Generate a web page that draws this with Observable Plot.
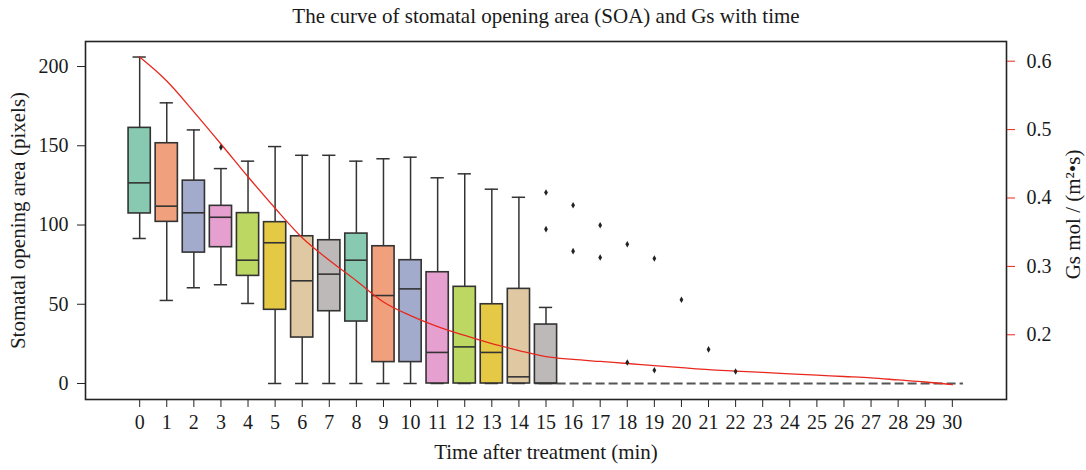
<!DOCTYPE html>
<html><head><meta charset="utf-8">
<script src="https://cdn.jsdelivr.net/npm/d3@7"></script>
<script src="https://cdn.jsdelivr.net/npm/@observablehq/plot@0.6"></script>
<style>body{margin:0;background:#fff;} svg{display:block}</style>
</head><body><div id="chart"></div>
<script>
// ---- data ----
const boxMinutes = [0, 1, 2, 3, 4, 5, 6, 7, 8, 9, 10, 11, 12, 13, 14, 15];
const whiskerLow = [91.5, 52.4, 60.4, 62.3, 50.5, 0, 0, 0, 0, 0, 0, 0, 0, 0, 0, 0];
const quartile1  = [107.3, 102, 82.6, 86, 67.9, 46.5, 29, 45.6, 39.1, 13.5, 13.5, 0, 0, 0, 0, 0];
const medians    = [126.6, 111.9, 107.7, 104.9, 77.8, 88.8, 64.8, 69, 77.8, 55.5, 59.7, 19.6, 23.1, 19.6, 4.2, 0];
const quartile3  = [161.3, 151.6, 128, 112.1, 107.5, 101.8, 92.9, 90.4, 94.6, 86.6, 77.8, 70.2, 61, 50, 59.7, 37.2];
const whiskerHigh= [206, 177.1, 160, 135.6, 140.3, 149.5, 144, 144, 140.3, 141.8, 142.8, 129.8, 132.3, 122.6, 117.5, 48];

const outlierMinutes = [3, 15, 15, 16, 16, 17, 17, 18, 18, 19, 19, 20, 21, 22];
const outlierValues  = [149, 120.5, 97.4, 112.5, 83.5, 99.9, 79.5, 87.9, 13.2, 78.9, 8.4, 52.8, 21.5, 7.6];

const zeroMinutes = [16, 17, 18, 19, 20, 21, 22, 23, 24, 25, 26, 27, 28, 29, 30];

const gsMinutes = [0,1,2,3,4,5,6,7,8,9,10,11,12,13,14,15,16,17,18,19,20,21,22,23,24,25,26,27,28,29,30];
const gsValues  = [0.606,0.571,0.526,0.479,0.431,0.385,0.342,0.309,0.279,0.248,0.228,0.212,0.199,0.187,0.177,0.168,
                   0.164,0.161,0.158,0.155,0.152,0.149,0.147,0.145,0.143,0.141,0.139,0.137,0.134,0.131,0.127];

const xTicks   = [0,1,2,3,4,5,6,7,8,9,10,11,12,13,14,15,16,17,18,19,20,21,22,23,24,25,26,27,28,29,30];
const soaTicks = [0, 50, 100, 150, 200];
const gsTicks  = [0.2, 0.3, 0.4, 0.5, 0.6];

const boxColors = ["#87c9b1", "#f0a07c", "#a3abcd", "#e6a0d0", "#bdd862", "#e5c843", "#e0c9a2", "#bdb9b8"];

const titleText = "The curve of stomatal opening area (SOA) and Gs with time";
const xTitle = "Time after treatment (min)";
const yTitle = "Stomatal opening area (pixels)";
const y2Title = "Gs mol / (m\u00B2\u2022s)";

// ---- scales ----
const soaDomain = [-10.1, 215.8];
const gsDomain = [0.1054, 0.6288];
const toSoa = d3.scaleLinear().domain(gsDomain).range(soaDomain);

const boxHalf = 0.41, capHalf = 0.245;
const boxes = boxMinutes.map((t, i) => ({
  t, lo: whiskerLow[i], q1: quartile1[i], med: medians[i], q3: quartile3[i], hi: whiskerHigh[i],
  color: boxColors[i % boxColors.length]
}));
const outliers = outlierMinutes.map((t, i) => ({t, v: outlierValues[i]}));
const gs = gsMinutes.map((t, i) => ({t, g: gsValues[i]}));
const zeroSpan = [{from: d3.min(zeroMinutes) - 1, to: d3.max(zeroMinutes), y: 0}];

const edge = "#333";
const red = "#e8281e";

const chart = Plot.plot({
  width: 1086, height: 470,
  marginLeft: 85, marginRight: 80, marginTop: 41, marginBottom: 71,
  style: {fontFamily: "'Liberation Serif', 'Times New Roman', serif", fontSize: "20px", color: "#1a1a1a", background: "#fff"},
  x: {domain: [-2, 32]},
  y: {domain: soaDomain},
  color: {type: "identity"},
  marks: [
    Plot.ruleY(zeroSpan, {y: "y", x1: d => d.from + boxHalf, x2: d => d.to + boxHalf, stroke: "#555", strokeWidth: 1.8, strokeDasharray: "9,4"}),
    Plot.ruleX(boxes, {x: "t", y1: "q3", y2: "hi", stroke: edge, strokeWidth: 1.5}),
    Plot.ruleX(boxes, {x: "t", y1: "lo", y2: "q1", stroke: edge, strokeWidth: 1.5}),
    Plot.ruleY(boxes, {y: "hi", x1: d => d.t - capHalf, x2: d => d.t + capHalf, stroke: edge, strokeWidth: 1.5}),
    Plot.ruleY(boxes, {y: "lo", x1: d => d.t - capHalf, x2: d => d.t + capHalf, stroke: edge, strokeWidth: 1.5}),
    Plot.rect(boxes, {x1: d => d.t - boxHalf, x2: d => d.t + boxHalf, y1: "q1", y2: "q3", fill: "color", stroke: edge, strokeWidth: 1.6}),
    Plot.ruleY(boxes, {y: "med", x1: d => d.t - boxHalf, x2: d => d.t + boxHalf, stroke: edge, strokeWidth: 1.6}),
    Plot.line(gs, {x: "t", y: d => toSoa(d.g), stroke: red, strokeWidth: 1.3, curve: "monotone-x"}),
    Plot.dot(outliers, {x: "t", y: "v", symbol: "diamond", r: 2, fill: "#222", stroke: "none"}),
    Plot.frame({stroke: "#222", strokeWidth: 1.6}),
    Plot.axisX(xTicks, {tickSize: 8, tickPadding: 7, label: null, stroke: "#222", tickFormat: d => String(d)}),
    Plot.axisY(soaTicks, {anchor: "left", tickSize: 8, tickPadding: 9, label: null, stroke: "#222"}),
    Plot.axisY(gsTicks.map(g => toSoa(g)), {anchor: "right", tickSize: 8, tickPadding: 12, label: null, stroke: red,
      tickFormat: v => d3.format(".1f")(toSoa.invert(v))}),
    Plot.text([titleText], {text: d => d, frameAnchor: "top", textAnchor: "middle", dy: -33, fontSize: 21, fill: "#1a1a1a"}),
    Plot.text([xTitle], {text: d => d, frameAnchor: "bottom", textAnchor: "middle", dy: 59, fontSize: 21, fill: "#1a1a1a"}),
    Plot.text([yTitle], {text: d => d, frameAnchor: "left", textAnchor: "middle", dx: -67, rotate: -90, fontSize: 21, fill: "#1a1a1a"}),
    Plot.text([y2Title], {text: d => d, frameAnchor: "right", textAnchor: "middle", dx: 67, dy: -6, rotate: -90, fontSize: 21, fill: "#1a1a1a"})
  ]
});
document.getElementById("chart").appendChild(chart);
</script>
</body></html>
